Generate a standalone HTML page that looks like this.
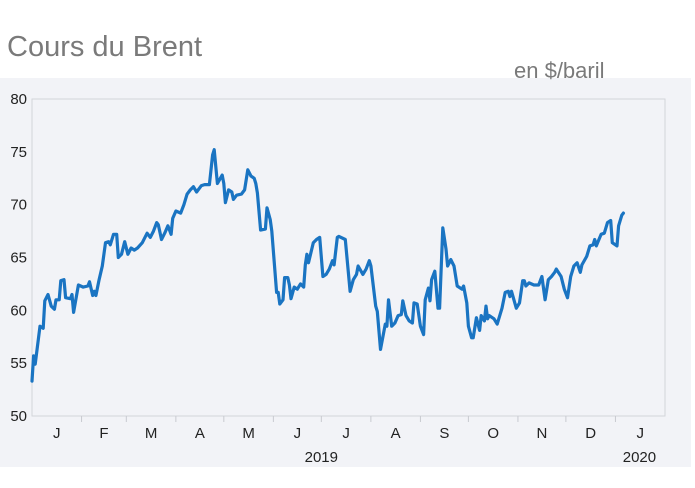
<!DOCTYPE html>
<html><head><meta charset="utf-8"><style>
body{margin:0;background:#fff;font-family:"Liberation Sans",sans-serif;}
</style></head><body>
<svg width="695" height="483" xmlns="http://www.w3.org/2000/svg">
<rect x="0" y="0" width="695" height="483" fill="#fff"/>
<text x="7" y="56" font-size="29" fill="#7a7a7a">Cours du Brent</text>
<rect x="0" y="78" width="691" height="389" fill="#f2f3f7"/>
<text x="514" y="78" font-size="22" fill="#7a7a7a">en $/baril</text>
<rect x="32" y="99" width="633" height="317" fill="none" stroke="#d3d5da" stroke-width="1"/>
<g id="yaxis"></g><g id="xaxis"></g><g id="series"></g>
</svg>
<script>
const days=[0,1,2,5,7,8,10,12,14,15,17,18,20,21,24,25,26,29,32,35,36,38,39,40,42,44,46,48,49,51,53,54,56,58,60,62,64,66,69,72,74,76,78,79,81,83,85,87,88,90,93,95,97,99,101,103,106,108,111,113,114,116,119,120,121,123,125,126,128,131,133,135,137,139,140,141,143,146,147,149,150,153,154,155,157,158,160,161,162,164,166,168,170,171,172,173,176,178,180,182,184,186,188,189,191,192,196,199,201,203,204,207,209,211,212,215,216,218,220,221,222,223,225,227,229,231,232,234,236,238,239,241,243,245,246,248,249,250,252,254,255,257,259,260,262,264,266,269,270,272,273,275,276,278,280,281,283,284,285,286,289,291,294,296,298,299,300,303,305,307,308,309,311,314,317,319,321,323,325,327,328,331,333,335,337,339,341,343,344,347,349,351,352,353,356,358,360,362,363,366,367,369,370];
const prices=[53.3,55.7,54.9,58.5,58.3,60.9,61.5,60.4,60.1,61.0,61.0,62.8,62.9,61.2,61.1,61.5,59.8,62.4,62.2,62.3,62.7,61.4,61.8,61.4,62.9,64.2,66.4,66.5,66.2,67.2,67.2,65.0,65.3,66.5,65.3,65.9,65.7,65.9,66.4,67.3,66.9,67.5,68.3,68.1,66.7,67.3,68.0,67.2,68.7,69.4,69.2,70.0,71.0,71.4,71.7,71.2,71.8,71.9,71.9,74.7,75.2,72.0,72.8,72.0,70.2,71.4,71.2,70.5,70.9,71.0,71.4,73.3,72.7,72.5,72.0,71.1,67.6,67.7,69.7,68.6,67.5,61.7,61.7,60.6,61.0,63.1,63.1,62.4,61.1,62.2,62.0,62.5,62.2,64.3,65.3,64.5,66.4,66.7,66.9,63.2,63.4,63.9,64.7,64.3,66.9,67.0,66.7,61.8,62.9,63.4,64.2,63.4,63.9,64.7,64.2,60.4,59.9,56.3,57.9,58.7,58.5,61.0,58.5,58.8,59.5,59.6,60.9,59.5,59.0,58.8,60.7,60.6,58.5,57.7,61.0,62.1,60.9,62.9,63.7,60.2,60.2,67.8,65.8,64.2,64.8,64.2,62.3,62.0,62.3,60.7,58.5,57.4,57.4,59.3,58.1,59.5,59.0,60.4,59.2,59.5,59.2,58.7,60.2,61.7,61.8,61.3,61.8,60.2,60.7,62.8,62.8,62.3,62.6,62.4,62.4,63.2,61.0,62.9,63.2,63.6,63.9,63.2,62.0,61.2,63.2,64.2,64.5,63.6,64.3,65.1,66.1,66.2,66.7,66.1,67.2,67.3,68.3,68.5,66.4,66.1,68.0,69.0,69.2];
const yTicks=[50,55,60,65,70,75,80];
const monthStarts=[0,31,59,90,120,151,181,212,243,273,304,334,365,396];
const monthLabels=["J","F","M","A","M","J","J","A","S","O","N","D","J"];
const yearLabels=[["2019",181],["2020",380]];
const NS="http://www.w3.org/2000/svg";
const X0=32,X1=665,Y0=416,Y1=99,DMAX=396,VMIN=50,VMAX=80;
const xs=d=>X0+(X1-X0)*d/DMAX;
const ys=v=>Y0-(Y0-Y1)*(v-VMIN)/(VMAX-VMIN);
function mk(tag,attrs,parent,txt){const e=document.createElementNS(NS,tag);for(const k in attrs)e.setAttribute(k,attrs[k]);if(txt!==undefined)e.textContent=txt;parent.appendChild(e);return e;}
const ya=document.getElementById('yaxis');
yTicks.forEach(v=>{
 const t=mk('text',{x:27,y:ys(v)+5,'font-size':15,fill:'#222','text-anchor':'end'},ya,String(v));
 
 
});
const xa=document.getElementById('xaxis');
monthStarts.forEach((d,i)=>{
 if(i>0&&i<monthStarts.length-1){
  const l=mk('line',{x1:xs(d),x2:xs(d),y1:Y0,y2:Y0+6,stroke:'#c8cad0'},xa);
  
  
 }
 if(i<monthLabels.length){
  const mid=(d+monthStarts[i+1])/2;
  const t=mk('text',{x:xs(mid),y:438,'font-size':15,fill:'#222','text-anchor':'middle'},xa,monthLabels[i]);
  
  
 }
});
yearLabels.forEach(([lab,d])=>{
 const t=mk('text',{x:xs(d),y:462,'font-size':15,fill:'#222','text-anchor':'middle'},xa,lab);
 
 
});
const pts=days.map((d,i)=>xs(d).toFixed(1)+','+ys(prices[i]).toFixed(1)).join(' ');
const pl=mk('polyline',{points:pts,fill:'none',stroke:'#1a74c2','stroke-width':3.2,'stroke-linejoin':'round','stroke-linecap':'round'},document.getElementById('series'));


</script>
</body></html>
